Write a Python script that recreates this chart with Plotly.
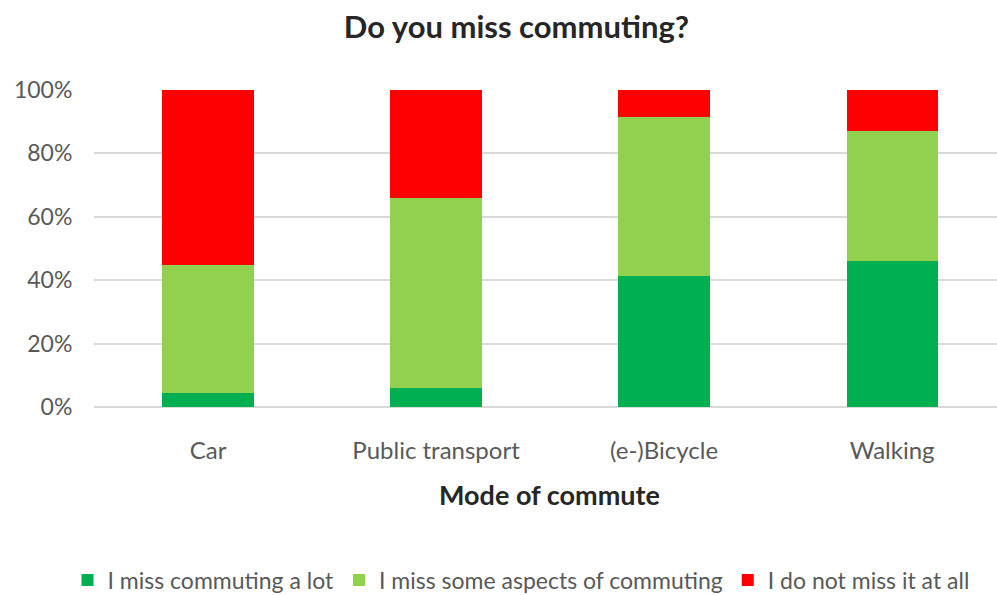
import plotly.graph_objects as go

categories = ["Car", "Public transport", "(e-)Bicycle", "Walking"]
miss_a_lot = [4.4, 6.0, 41.4, 46.0]
miss_some = [40.3, 59.8, 50.2, 41.1]
not_at_all = [55.3, 34.2, 8.4, 12.9]
series_names = ["I miss commuting a lot", "I miss some aspects of commuting", "I do not miss it at all"]
series_colors = ["#00B050", "#92D050", "#FF0000"]
y_ticks = [0, 20, 40, 60, 80, 100]
y_tick_labels = ["0%", "20%", "40%", "60%", "80%", "100%"]

FONT = "Lato, sans-serif"

fig = go.Figure()
for name, vals, col in zip(series_names, [miss_a_lot, miss_some, not_at_all], series_colors):
    fig.add_trace(go.Bar(x=categories, y=vals, name=name, marker=dict(color=col, line=dict(width=0))))

fig.update_layout(
    barmode="stack",
    bargap=0.6,
    width=997, height=595,
    paper_bgcolor="white", plot_bgcolor="white",
    margin=dict(l=94, r=0, t=90, b=188, autoexpand=False),
    font=dict(family=FONT, size=24, color="#595959"),
    title=dict(text="<b>Do you miss commuting?</b>", x=0.518, xanchor="center", y=0.955, yanchor="middle",
               font=dict(family=FONT, size=31, color="#262626")),
    showlegend=True,
    legend=dict(orientation="h", xref="container", yref="container", x=521 / 997, xanchor="center",
                y=15 / 595, yanchor="middle",
                font=dict(family=FONT, size=23, color="#595959"), traceorder="normal"),
    annotations=[dict(text="<b>Mode of commute</b>", xref="paper", yref="paper", x=(549 - 94) / 903, y=-0.275,
                      xanchor="center", yanchor="middle", showarrow=False,
                      font=dict(family=FONT, size=27, color="#262626"))],
)
fig.update_xaxes(range=[-0.5, 3.46], showgrid=False, showline=False, ticks="outside", ticklen=22,
                 tickcolor="rgba(0,0,0,0)", tickfont=dict(size=24, color="#595959"), automargin=False)
fig.update_yaxes(range=[0, 100], tickvals=y_ticks, ticktext=y_tick_labels, showgrid=True,
                 gridcolor="#d9d9d9", gridwidth=1.5, zeroline=True, zerolinecolor="#d9d9d9", zerolinewidth=1.5,
                 ticks="outside", ticklen=16, tickcolor="rgba(0,0,0,0)", automargin=False,
                 tickfont=dict(size=23, color="#595959"))

fig.write_html("out.html", config={"displayModeBar": False},
               post_script="document.body.style.margin='0';document.body.style.overflow='hidden';")
